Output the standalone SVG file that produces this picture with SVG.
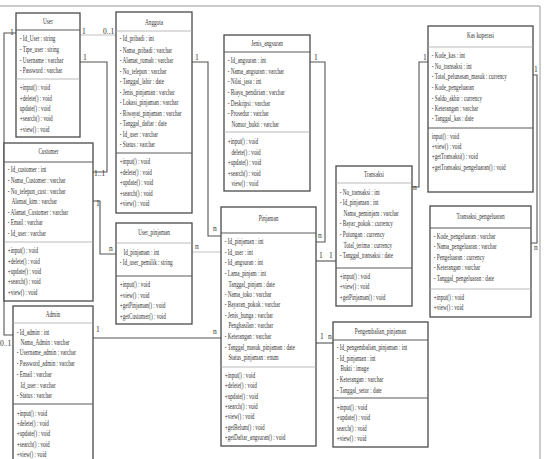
<svg xmlns="http://www.w3.org/2000/svg" width="547" height="459" viewBox="0 0 547 459">
<style>
.box{fill:#fff;stroke:#4a4a4a;stroke-width:1.3}
.sep{stroke:#5a5a5a;stroke-width:1.1}
.sepl{stroke:#aaa;stroke-width:0.8}
.t text{font-family:"Liberation Serif","Times New Roman",serif;font-size:8.4px;fill:#333}
.h{text-anchor:middle}
.c{fill:none;stroke:#555;stroke-width:1.1}
.cl{fill:none;stroke:#bbb;stroke-width:0.9}
.m{font-family:"Liberation Serif",serif;font-size:7.5px;fill:#333}
.frame{fill:none;stroke:#999;stroke-width:1}
</style>
<rect width="547" height="459" fill="#fff"/>
<path class="frame" d="M0 6 H540 V459"/>

<g id="connectors">
<path class="c" d="M16 33 H4 V335 H13"/>
<path class="cl" d="M80 35 H116"/>
<path class="c" d="M80 62 H107 V172 H93"/>
<path class="c" d="M192 62 H208 V236 H221"/>
<path class="c" d="M310 62 H325 V242 H316"/>
<path class="c" d="M93 201 H100 V254 H116"/>
<path class="cl" d="M192 252 H221"/>
<path class="c" d="M93 338 H221"/>
<path class="c" d="M316 261 H336"/>
<path class="c" d="M316 343 H333"/>
<path class="c" d="M412 187 H419 V62 H428"/>
<path class="c" d="M533 75 H537 V243 H531"/>
<text class="m" x="10" y="35">1</text>
<text class="m" x="0" y="346">0..1</text>
<text class="m" x="82" y="34">1</text>
<text class="m" x="103" y="34">0..1</text>
<text class="m" x="83" y="60">1</text>
<text class="m" x="94" y="176">1..1</text>
<text class="m" x="195" y="60">1</text>
<text class="m" x="213" y="231">n</text>
<text class="m" x="314" y="60">1</text>
<text class="m" x="318" y="238">n</text>
<text class="m" x="96" y="206">1</text>
<text class="m" x="109" y="251">n</text>
<text class="m" x="195" y="249">n</text>
<text class="m" x="96" y="332">1</text>
<text class="m" x="213" y="334">n</text>
<text class="m" x="319" y="258">1</text>
<text class="m" x="329" y="258">1</text>
<text class="m" x="320" y="339">1</text>
<text class="m" x="328" y="339">n</text>
<text class="m" x="423" y="60">1</text>
<text class="m" x="413" y="190">n</text>
<text class="m" x="534" y="72">1</text>
<text class="m" x="534" y="250">n</text>
</g>

<g id="User">
<rect class="box" x="16" y="13" width="64" height="124"/>
<line class="sep" x1="16" y1="30" x2="80" y2="30"/>
<line class="sepl" x1="16" y1="79" x2="80" y2="79"/>
<g class="t" transform="translate(16 0) scale(0.62 1)">
<text class="h" x="51.6" y="24">User</text>
<text x="6" y="41.5">- Id_User : string</text>
<text x="6" y="52.5">- Tipe_user : string</text>
<text x="6" y="63.5">- Username : varchar</text>
<text x="6" y="73.5">- Password : varchar</text>
<text x="6" y="90.5">+input() : void</text>
<text x="6" y="101.5">+delete() : void</text>
<text x="6" y="111.5">update() : void</text>
<text x="6" y="121.5">+search() : void</text>
<text x="6" y="132.5">+view() : void</text>
</g>
</g>

<g id="Anggota">
<rect class="box" x="116" y="12" width="76" height="201"/>
<line class="sepl" x1="116" y1="31" x2="192" y2="31"/>
<line class="sep" x1="116" y1="153" x2="192" y2="153"/>
<g class="t" transform="translate(116 0) scale(0.62 1)">
<text class="h" x="61.3" y="25">Anggota</text>
<text x="6" y="41.5">- Id_pribadi : int</text>
<text x="6" y="53.5">- Nama_pribadi : varchar</text>
<text x="6" y="63.5">- Alamat_rumah : varchar</text>
<text x="6" y="74.5">- No_telepon : varchar</text>
<text x="6" y="84.5">- Tanggal_lahir : date</text>
<text x="6" y="95.5">- Jenis_pinjaman : varchar</text>
<text x="6" y="105.5">- Lokasi_pinjaman : varchar</text>
<text x="6" y="116.5">- Riwayat_pinjaman : varchar</text>
<text x="6" y="126.5">- Tanggal_daftar : date</text>
<text x="6" y="137.5">- Id_user : varchar</text>
<text x="6" y="147.5">- Status : varchar</text>
<text x="6" y="164.5">+input() : void</text>
<text x="6" y="175.5">+delete() : void</text>
<text x="6" y="185.5">+update() : void</text>
<text x="6" y="196.5">+search() : void</text>
<text x="6" y="206.5">+view() : void</text>
</g>
</g>

<g id="Jenis_angsuran">
<rect class="box" x="224" y="35" width="86" height="156"/>
<line class="sep" x1="224" y1="52" x2="310" y2="52"/>
<line class="sepl" x1="224" y1="132" x2="310" y2="132"/>
<g class="t" transform="translate(224 0) scale(0.62 1)">
<text class="h" x="69.4" y="46">Jenis_angsuran</text>
<text x="6" y="63.5">- Id_angsuran : int</text>
<text x="6" y="74.5">- Nama_angsuran : varchar</text>
<text x="6" y="84.5">- Nilai_jasa : int</text>
<text x="6" y="95.5">- Biaya_pendirian : varchar</text>
<text x="6" y="106.5">- Deskripsi : varchar</text>
<text x="6" y="116.5">- Prosedur : varchar</text>
<text x="12" y="127.5">Nomor_bukti : varchar</text>
<text x="6" y="144.5">+input() : void</text>
<text x="12" y="155.5">delete() : void</text>
<text x="6" y="165.5">+update() : void</text>
<text x="6" y="176.5">+search() : void</text>
<text x="12" y="186.5">view() : void</text>
</g>
</g>

<g id="Kas_koperasi">
<rect class="box" x="428" y="26" width="105" height="166"/>
<line class="sepl" x1="428" y1="47" x2="533" y2="47"/>
<line class="sep" x1="428" y1="128" x2="533" y2="128"/>
<g class="t" transform="translate(428 0) scale(0.62 1)">
<text class="h" x="84.7" y="38">Kas koperasi</text>
<text x="6" y="58.5">- Kode_kas : int</text>
<text x="6" y="69.5">- No_transaksi : int</text>
<text x="6" y="79.5">- Total_pelunasan_masuk : currency</text>
<text x="6" y="90.5">- Kode_pengeluaran</text>
<text x="6" y="101.5">- Saldo_akhir : currency</text>
<text x="6" y="111.5">- Keterangan : varchar</text>
<text x="6" y="121.5">- Tanggal_kas : date</text>
<text x="6" y="139.5">input() : void</text>
<text x="6" y="149.5">+view() : void</text>
<text x="6" y="159.5">+getTransaksi() : void</text>
<text x="6" y="170.5">+getTransaksi_pengeluaran() : void</text>
</g>
</g>

<g id="Customer">
<rect class="box" x="4" y="143" width="89" height="158"/>
<line class="sep" x1="4" y1="162" x2="93" y2="162"/>
<line class="sepl" x1="4" y1="242" x2="93" y2="242"/>
<g class="t" transform="translate(4 0) scale(0.62 1)">
<text class="h" x="71.8" y="154">Customer</text>
<text x="6" y="172.5">- Id_customer : int</text>
<text x="6" y="183.5">- Nama_Customer : varchar</text>
<text x="6" y="194.5">- No_telepon_cust : varchar</text>
<text x="12" y="204.5">Alamat_ktm : varchar</text>
<text x="6" y="215.5">- Alamat_Customer : varchar</text>
<text x="6" y="225.5">- Email : varchar</text>
<text x="6" y="236.5">- Id_user : varchar</text>
<text x="6" y="253.5">+input() : void</text>
<text x="6" y="264.5">+delete() : void</text>
<text x="6" y="274.5">+update() : void</text>
<text x="6" y="284.5">+search() : void</text>
<text x="6" y="295.5">+view() : void</text>
</g>
</g>

<g id="Admin">
<rect class="box" x="13" y="306" width="80" height="160"/>
<line class="sepl" x1="13" y1="323" x2="93" y2="323"/>
<line class="sep" x1="13" y1="404" x2="93" y2="404"/>
<g class="t" transform="translate(13 0) scale(0.62 1)">
<text class="h" x="64.5" y="317">Admin</text>
<text x="6" y="335.5">- Id_admin : int</text>
<text x="12" y="345.5">Nama_Admin : varchar</text>
<text x="6" y="355.5">- Username_admin : varchar</text>
<text x="6" y="366.5">- Password_admin : varchar</text>
<text x="6" y="377.5">- Email : varchar</text>
<text x="12" y="388.5">Id_user : varchar</text>
<text x="6" y="398.5">- Status : varchar</text>
<text x="6" y="416.5">+input() : void</text>
<text x="6" y="426.5">+delete() : void</text>
<text x="6" y="436.5">+update() : void</text>
<text x="6" y="447.5">+search() : void</text>
<text x="6" y="457.5">+view() : void</text>
</g>
</g>

<g id="User_pinjaman">
<rect class="box" x="116" y="223" width="76" height="101"/>
<line class="sepl" x1="116" y1="243" x2="192" y2="243"/>
<line class="sep" x1="116" y1="276" x2="192" y2="276"/>
<g class="t" transform="translate(116 0) scale(0.62 1)">
<text class="h" x="61.3" y="235">User_pinjaman</text>
<text x="12" y="255.5">Id_pinjaman : int</text>
<text x="6" y="265.5">- Id_user_pemilik : string</text>
<text x="6" y="287.5">+input() : void</text>
<text x="6" y="298.5">+view() : void</text>
<text x="6" y="308.5">+getPinjaman() : void</text>
<text x="6" y="319.5">+getCustomer() : void</text>
</g>
</g>

<g id="Pinjaman">
<rect class="box" x="221" y="207" width="95" height="239"/>
<line class="sep" x1="221" y1="233" x2="316" y2="233"/>
<line class="sepl" x1="221" y1="367" x2="316" y2="367"/>
<g class="t" transform="translate(221 0) scale(0.62 1)">
<text class="h" x="76.6" y="221">Pinjaman</text>
<text x="6" y="244.5">- Id_pinjaman : int</text>
<text x="6" y="255.5">- Id_user : int</text>
<text x="6" y="265.5">- Id_angsuran : int</text>
<text x="6" y="276.5">- Lama_pinjam : int</text>
<text x="12" y="287.5">Tanggal_pinjam : date</text>
<text x="6" y="297.5">- Nama_toko : varchar</text>
<text x="6" y="307.5">- Bayaran_pokok : varchar</text>
<text x="6" y="318.5">- Jenis_bunga : varchar</text>
<text x="12" y="328.5">Penghasilan : varchar</text>
<text x="6" y="339.5">- Keterangan : varchar</text>
<text x="6" y="350.5">- Tanggal_masuk_pinjaman : date</text>
<text x="12" y="360.5">Status_pinjaman : enum</text>
<text x="6" y="378.5">+input() : void</text>
<text x="6" y="388.5">+delete() : void</text>
<text x="6" y="399.5">+update() : void</text>
<text x="6" y="409.5">+search() : void</text>
<text x="6" y="419.5">+view() : void</text>
<text x="6" y="430.5">+getBelum() : void</text>
<text x="6" y="440.5">+getDaftar_angsuran() : void</text>
</g>
</g>

<g id="Transaksi">
<rect class="box" x="336" y="166" width="76" height="140"/>
<line class="sepl" x1="336" y1="183" x2="412" y2="183"/>
<line class="sep" x1="336" y1="268" x2="412" y2="268"/>
<g class="t" transform="translate(336 0) scale(0.62 1)">
<text class="h" x="61.3" y="177">Transaksi</text>
<text x="6" y="195.5">- No_transaksi : int</text>
<text x="6" y="205.5">- Id_pinjaman : int</text>
<text x="12" y="216.5">Nama_peminjam : varchar</text>
<text x="6" y="226.5">- Bayar_pokok : currency</text>
<text x="6" y="237.5">- Potongan : currency</text>
<text x="12" y="248.5">Total_terima : currency</text>
<text x="6" y="258.5">- Tanggal_transaksi : date</text>
<text x="6" y="279.5">+input() : void</text>
<text x="6" y="289.5">+view() : void</text>
<text x="6" y="300.5">+getPinjaman() : void</text>
</g>
</g>

<g id="Transaksi_pengeluaran">
<rect class="box" x="430" y="206" width="101" height="111"/>
<line class="sep" x1="430" y1="228" x2="531" y2="228"/>
<line class="sepl" x1="430" y1="289" x2="531" y2="289"/>
<g class="t" transform="translate(430 0) scale(0.62 1)">
<text class="h" x="81.5" y="219">Transaksi_pengeluaran</text>
<text x="6" y="239.5">- Kode_pengeluaran : varchar</text>
<text x="6" y="249.5">- Nama_pengeluaran : varchar</text>
<text x="6" y="260.5">- Pengeluaran : currency</text>
<text x="6" y="270.5">- Keterangan : varchar</text>
<text x="6" y="281.5">- Tanggal_pengeluaran : date</text>
<text x="6" y="300.5">+input() : void</text>
<text x="6" y="310.5">+view() : void</text>
</g>
</g>

<g id="Pengembalian_pinjaman">
<rect class="box" x="333" y="322" width="95" height="125"/>
<line class="sep" x1="333" y1="340" x2="428" y2="340"/>
<line class="sep" x1="333" y1="398" x2="428" y2="398"/>
<g class="t" transform="translate(333 0) scale(0.62 1)">
<text class="h" x="76.6" y="334">Pengembalian_pinjaman</text>
<text x="6" y="350.5">- Id_pengembalian_pinjaman : int</text>
<text x="6" y="361.5">- Id_pinjaman : int</text>
<text x="12" y="371.5">Bukti : image</text>
<text x="6" y="382.5">- Keterangan : varchar</text>
<text x="6" y="393.5">- Tanggal_setor : date</text>
<text x="6" y="410.5">+input() : void</text>
<text x="6" y="420.5">+update() : void</text>
<text x="6" y="431.5">search() : void</text>
<text x="6" y="441.5">+view() : void</text>
</g>
</g>
</svg>
